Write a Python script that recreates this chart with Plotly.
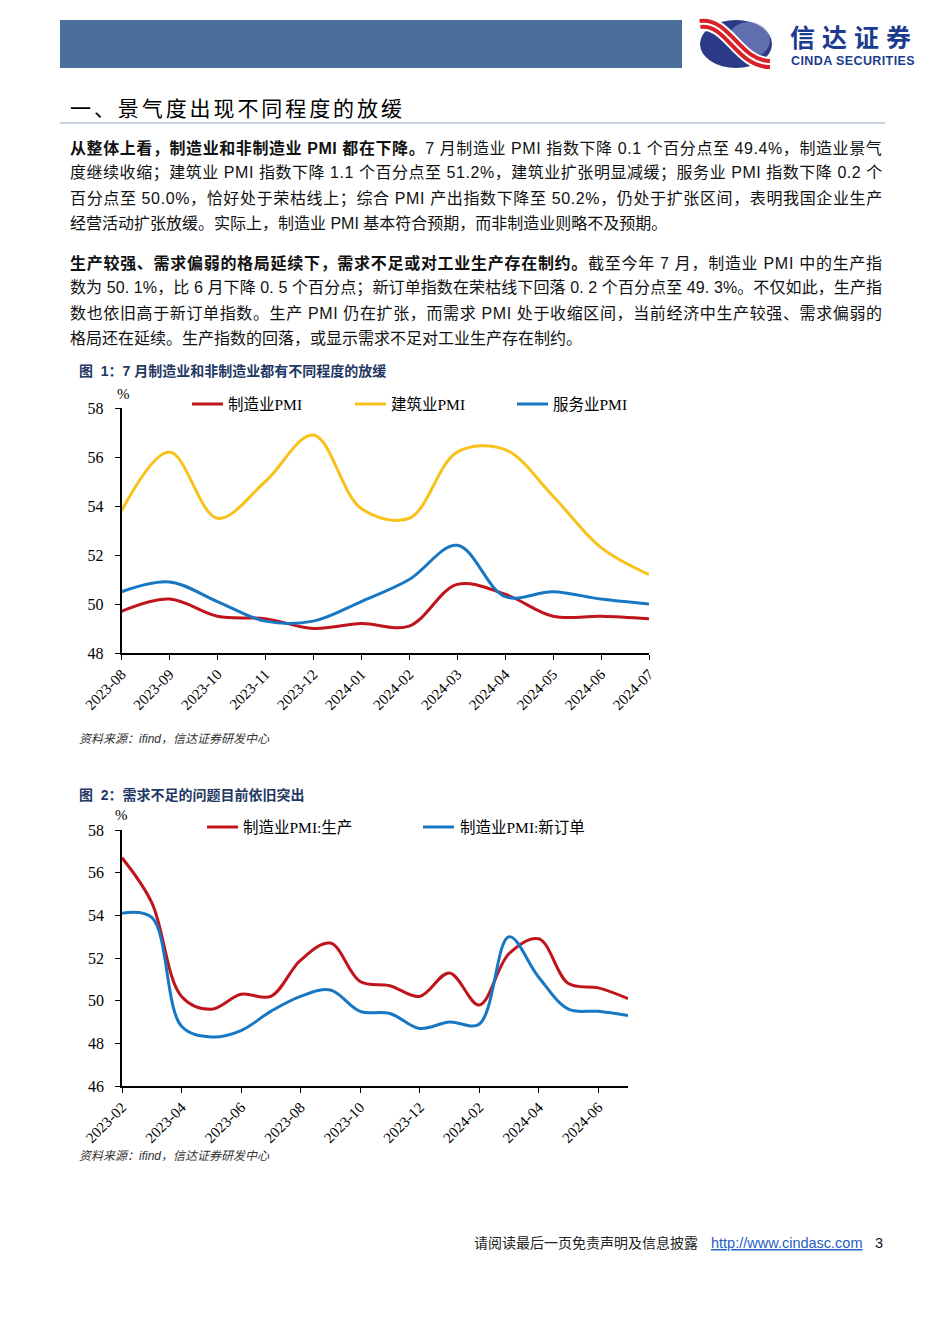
import re
import plotly.graph_objects as go

# ---------------- data ----------------
months1 = ["2023-08", "2023-09", "2023-10", "2023-11", "2023-12", "2024-01",
           "2024-02", "2024-03", "2024-04", "2024-05", "2024-06", "2024-07"]
mfg_pmi = [49.7, 50.2, 49.5, 49.4, 49.0, 49.2, 49.1, 50.8, 50.4, 49.5, 49.5, 49.4]
cons_pmi = [53.8, 56.2, 53.5, 55.0, 56.9, 53.9, 53.5, 56.2, 56.3, 54.4, 52.3, 51.2]
serv_pmi = [50.5, 50.9, 50.1, 49.3, 49.3, 50.1, 51.0, 52.4, 50.3, 50.5, 50.2, 50.0]

months2 = ["2023-02", "2023-03", "2023-04", "2023-05", "2023-06", "2023-07",
           "2023-08", "2023-09", "2023-10", "2023-11", "2023-12", "2024-01",
           "2024-02", "2024-03", "2024-04", "2024-05", "2024-06", "2024-07"]
prod_pmi = [56.7, 54.6, 50.2, 49.6, 50.3, 50.2, 51.9, 52.7, 50.9, 50.7, 50.2, 51.3,
            49.8, 52.2, 52.9, 50.8, 50.6, 50.1]
order_pmi = [54.1, 53.9, 48.8, 48.3, 48.6, 49.5, 50.2, 50.5, 49.5, 49.4, 48.7, 49.0,
             48.9, 53.0, 51.1, 49.6, 49.5, 49.3]

names1 = ["制造业PMI", "建筑业PMI", "服务业PMI"]
names2 = ["制造业PMI:生产", "制造业PMI:新订单"]

para_lines = [
    ("<b>从整体上看，制造业和非制造业 PMI 都在下降。</b>7 月制造业 PMI 指数下降 0.1 个百分点至 49.4%，制造业景气", True),
    ("度继续收缩；建筑业 PMI 指数下降 1.1 个百分点至 51.2%，建筑业扩张明显减缓；服务业 PMI 指数下降 0.2 个", True),
    ("百分点至 50.0%，恰好处于荣枯线上；综合 PMI 产出指数下降至 50.2%，仍处于扩张区间，表明我国企业生产", True),
    ("经营活动扩张放缓。实际上，制造业 PMI 基本符合预期，而非制造业则略不及预期。", False),
    ("<b>生产较强、需求偏弱的格局延续下，需求不足或对工业生产存在制约。</b>截至今年 7 月，制造业 PMI 中的生产指", True),
    ("数为 50. 1%，比 6 月下降 0. 5 个百分点；新订单指数在荣枯线下回落 0. 2 个百分点至 49. 3%。不仅如此，生产指", True),
    ("数也依旧高于新订单指数。生产 PMI 仍在扩张，而需求 PMI 处于收缩区间，当前经济中生产较强、需求偏弱的", True),
    ("格局还在延续。生产指数的回落，或显示需求不足对工业生产存在制约。", False),
]
para_y = [148, 173, 199, 224, 263, 288, 313, 339]

# ---------------- helpers ----------------
W, H = 950, 1344


def X(px):
    return px / W


def Y(py):
    return 1 - py / H


AR = {".": .278, "%": .889, "P": .667, "M": .833, "I": .278, " ": .278, ":": .278}


def est_width(s, fs):
    s = re.sub(r"<[^>]+>", "", s)
    w = 0
    for ch in s:
        if ord(ch) > 0x2000:
            w += fs
        elif ch.isdigit():
            w += .556 * fs
        else:
            w += AR.get(ch, .55) * fs
    return w, len(s)


RED = "#C0141C"
YEL = "#F8C21A"
BLU = "#1877C2"
NAVY = "#1F3864"
SANS = "Liberation Sans, Noto Sans CJK SC"
SERIF = "Liberation Serif, Noto Sans CJK SC"

fig = go.Figure()

# ---------------- traces ----------------
for vals, nm, col in zip([mfg_pmi, cons_pmi, serv_pmi], names1, [RED, YEL, BLU]):
    fig.add_trace(go.Scatter(x=months1, y=vals, name=nm, mode="lines",
                             line=dict(color=col, width=3, shape="spline", smoothing=1.0),
                             xaxis="x", yaxis="y", showlegend=False))
for vals, nm, col in zip([prod_pmi, order_pmi], names2, [RED, BLU]):
    fig.add_trace(go.Scatter(x=months2, y=vals, name=nm, mode="lines",
                             line=dict(color=col, width=3, shape="spline", smoothing=1.0),
                             xaxis="x2", yaxis="y2", showlegend=False))

axis_common = dict(showline=True, linecolor="black", linewidth=1.5, ticks="outside",
                   ticklen=5, tickwidth=1.2, tickcolor="black", showgrid=False,
                   zeroline=False, automargin=False, fixedrange=True)

fig.update_layout(
    width=W, height=H, margin=dict(l=0, r=0, t=0, b=0),
    paper_bgcolor="white", plot_bgcolor="white",
    font=dict(family=SANS, color="black"),
    xaxis=dict(domain=[X(121.5), X(649)], anchor="y", type="category",
               range=[0, len(months1) - 1], tickangle=-45,
               tickfont=dict(family=SERIF, size=15, color="black"), **axis_common),
    yaxis=dict(domain=[Y(653), Y(408)], anchor="x", range=[48, 58], dtick=2,
               tickfont=dict(family=SERIF, size=16, color="black"),
               ticklabelstandoff=8, **axis_common),
    xaxis2=dict(domain=[X(122), X(628)], anchor="y2", type="category",
                range=[0, len(months2) - 1], tickangle=-45,
                tickmode="array", tickvals=months2[::2], ticktext=months2[::2],
                tickfont=dict(family=SERIF, size=15, color="black"), **axis_common),
    yaxis2=dict(domain=[Y(1086), Y(830)], anchor="x2", range=[46, 58], dtick=2,
                tickfont=dict(family=SERIF, size=16, color="black"),
                ticklabelstandoff=8, **axis_common),
)

shapes = []
ann = []


def text(x, y, s, size, color="black", family=SANS, xanchor="left", yanchor="middle"):
    ann.append(dict(x=X(x), y=Y(y), xref="paper", yref="paper", text=s, showarrow=False,
                    xanchor=xanchor, yanchor=yanchor, font=dict(size=size, color=color, family=family),
                    borderpad=0))


# ---------------- header ----------------
shapes.append(dict(type="rect", xref="paper", yref="paper", x0=X(60), x1=X(682), y0=Y(68), y1=Y(20),
                   fillcolor="#4B6F9B", line=dict(width=0), layer="below"))
# logo sphere
shapes.append(dict(type="circle", xref="paper", yref="paper", x0=X(700), x1=X(772), y0=Y(68), y1=Y(20),
                   fillcolor="#2A3A86", line=dict(width=0)))
shapes.append(dict(type="circle", xref="paper", yref="paper", x0=X(728), x1=X(770), y0=Y(58), y1=Y(22),
                   fillcolor="#8C97CF", opacity=0.55, line=dict(width=0)))


def curve(pts):
    (x0, y0), (x1, y1), (x2, y2), (x3, y3) = pts
    return f"M {X(x0)},{Y(y0)} C {X(x1)},{Y(y1)} {X(x2)},{Y(y2)} {X(x3)},{Y(y3)}"


band = [(700, 24), (728, 20), (738, 64), (770, 64)]
shapes.append(dict(type="path", xref="paper", yref="paper", path=curve(band),
                   line=dict(color="white", width=14)))
shapes.append(dict(type="path", xref="paper", yref="paper", path=curve(band),
                   line=dict(color="#D7202A", width=10)))
shapes.append(dict(type="path", xref="paper", yref="paper", path=curve(band),
                   line=dict(color="white", width=2)))
text(789, 36, '<b><span style="letter-spacing:7px">信达证券</span></b>', 25, "#1B3B8E",
     family="Noto Sans CJK SC")
text(790, 61, '<b><span style="letter-spacing:0.4px">CINDA SECURITIES</span></b>', 12.5, "#1B3B8E",
     family="Liberation Sans")

# ---------------- section title ----------------
title = "一、景气度出现不同程度的放缓"
w, n = est_width(title, 21)
ls = (332 - w) / (n - 1)
text(69, 107, f'<span style="letter-spacing:{ls:.2f}px">{title}</span>', 21, family="Noto Sans CJK SC")
shapes.append(dict(type="line", xref="paper", yref="paper", x0=X(60), x1=X(885), y0=Y(123), y1=Y(123),
                   line=dict(color="#8DA5C4", width=1.2)))

# ---------------- paragraphs ----------------
FS = 16
for (s, just), yy in zip(para_lines, para_y):
    if just:
        w, n = est_width(s, FS)
        ls = (812 - w) / (n - 1)
        s = f'<span style="letter-spacing:{ls:.2f}px">{s}</span>'
    text(69, yy, s, FS, "#111111")

# ---------------- chart 1 texts ----------------
text(78, 371, "<b>图  1：7 月制造业和非制造业都有不同程度的放缓</b>", 14, NAVY)
text(123, 394, "%", 15, family=SERIF, xanchor="center")
for (x0, tx), nm, col in zip([(192, 227), (355, 390), (517, 552)], names1, [RED, YEL, BLU]):
    shapes.append(dict(type="line", xref="paper", yref="paper", x0=X(x0), x1=X(x0 + 31),
                       y0=Y(404), y1=Y(404), line=dict(color=col, width=3)))
    text(tx, 404, nm, 15.5, family=SERIF)
text(78, 739, "<i>资料来源：ifind，信达证券研发中心</i>", 12, "#333333")

# ---------------- chart 2 texts ----------------
text(78, 795, "<b>图  2：需求不足的问题目前依旧突出</b>", 14, NAVY)
text(122, 815, "%", 15, family=SERIF, xanchor="center")
for (x0, tx), nm, col in zip([(207, 242), (423, 459)], names2, [RED, BLU]):
    shapes.append(dict(type="line", xref="paper", yref="paper", x0=X(x0), x1=X(x0 + 31),
                       y0=Y(827), y1=Y(827), line=dict(color=col, width=3)))
    text(tx, 827, nm, 15.5, family=SERIF)
text(78, 1156, "<i>资料来源：ifind，信达证券研发中心</i>", 12, "#333333")

# ---------------- footer ----------------
text(473, 1243, "请阅读最后一页免责声明及信息披露", 14, "#222222")
text(710, 1243, "<u>http://www.cindasc.com</u>", 14.5, "#1F5FBF", family="Liberation Sans")
text(874, 1243, "3", 14.5, "#111111", family="Liberation Sans")

fig.update_layout(shapes=shapes, annotations=ann)
fig.write_html("out.html")
